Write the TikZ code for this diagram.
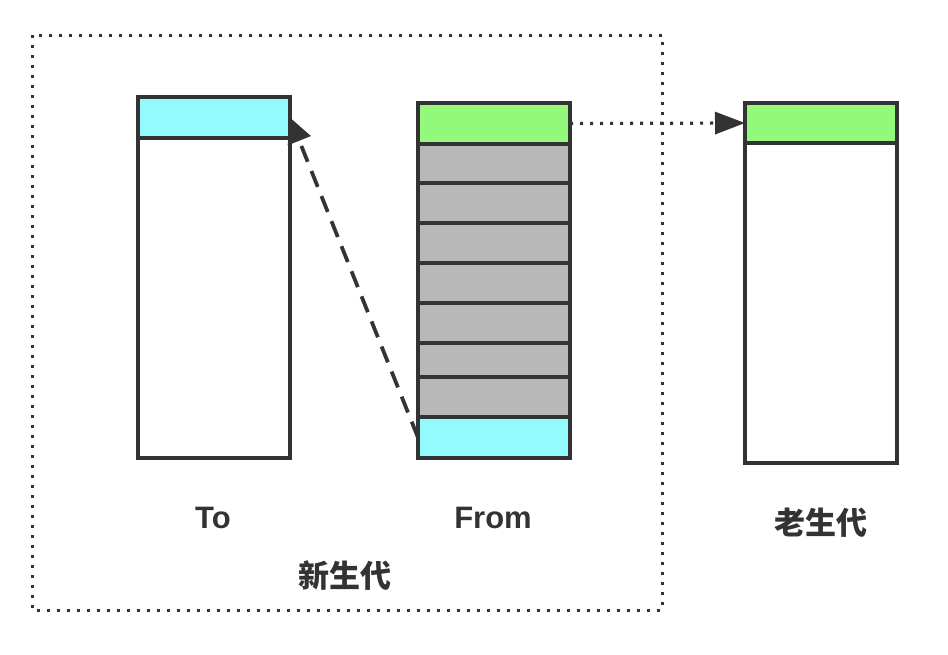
\documentclass[tikz,border=0pt]{standalone}
\usepackage{fontspec}
\setmainfont{Liberation Sans}
\newfontfamily\cjk{Noto Sans CJK SC}
\usepackage{xcolor}
\definecolor{cell_cyan}{HTML}{91FBFD}
\definecolor{cell_green}{HTML}{93F97B}
\definecolor{cell_gray}{HTML}{B8B8B8}
\definecolor{line_gray}{HTML}{333333}
\usetikzlibrary{positioning, arrows.meta}

\begin{document}
\begin{tikzpicture}[x=1pt,y=-1pt,
    cell/.style={draw=line_gray, line width=3.8pt, minimum width=152pt, inner sep=0pt, outer sep=0pt, anchor=north west},
    lbl/.style={text=line_gray, font=\fontsize{31}{36}\selectfont\bfseries}]
    \useasboundingbox (0,0) rectangle (948,654);
    %新生代の枠
    \draw[line_gray, line width=3pt, dash pattern=on 3pt off 7pt] (32,35) rectangle (662,610);
    %To
    \node[cell, fill=cell_cyan, minimum height=41pt] (to_top) at (138,97) {};
    \node[cell, fill=white, minimum height=320pt, below=0pt of to_top] (to_body) {};
    %From
    \node[cell, fill=cell_green, minimum height=41pt] (from_top) at (418,103) {};
    \foreach \t/\h [count=\i] in {144/39,183/40,223/40,263/40,303/40,343/34,377/40}
        \node[cell, fill=cell_gray, minimum height=\h pt] (from_\i) at (418,\t) {};
    \node[cell, fill=cell_cyan, minimum height=41pt] (from_surv) at (418,417) {};
    %老生代
    \node[cell, fill=cell_green, minimum height=40pt] (old_top) at (745,103) {};
    \node[cell, fill=white, minimum height=320pt, below=0pt of old_top] (old_body) {};
    %矢印
    \draw[line_gray, line width=3.8pt, dash pattern=on 17pt off 10pt, -{Triangle[length=25pt,width=24pt]}] (from_surv.west) -- (to_top.east);
    \draw[line_gray, line width=3.2pt, dash pattern=on 3pt off 7pt, -{Triangle[length=30pt,width=22pt]}] (from_top.east) -- (old_top.west);
    %ラベル
    \node[lbl] (to_lbl) at (213,518) {To};
    \node[lbl] (from_lbl) at (493,518) {From};
    \node[lbl] (young_lbl) at (345,576) {\cjk 新生代};
    \node[lbl] (old_lbl) at (821,523) {\cjk 老生代};
\end{tikzpicture}
\end{document}
